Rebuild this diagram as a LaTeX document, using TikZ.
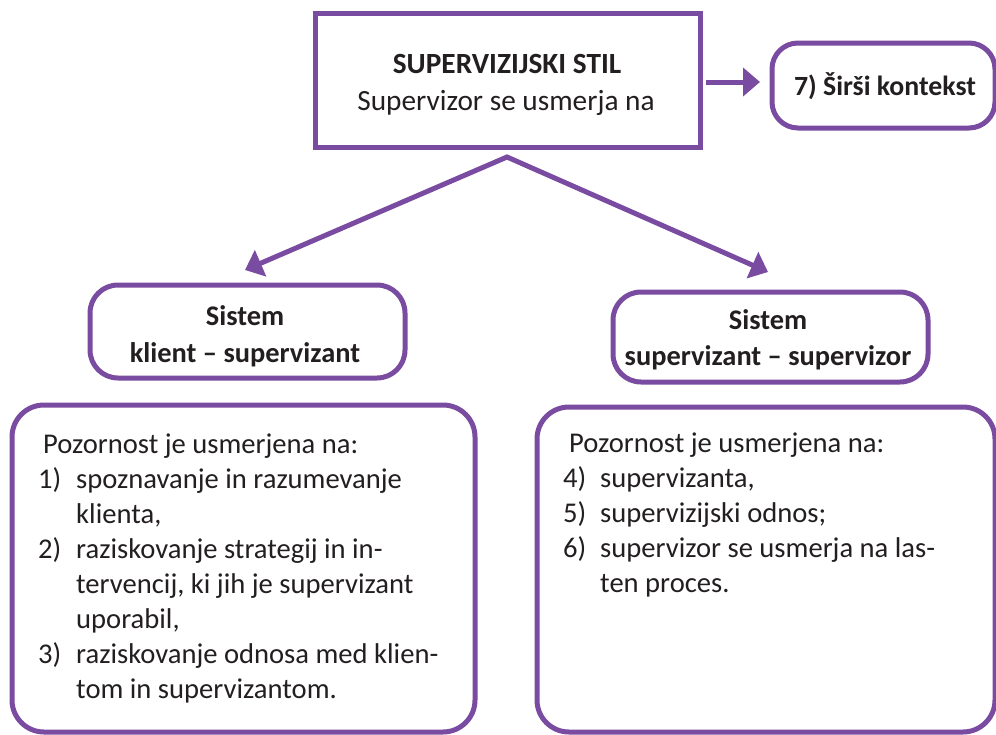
\documentclass[tikz,border=0pt]{standalone}
\usepackage{fontspec}
\setmainfont{Carlito}
\usetikzlibrary{arrows.meta}
\definecolor{vij}{RGB}{122,76,161}
\definecolor{txt}{RGB}{35,31,32}
\newcommand\itm[3]{\hbox{\makebox[#1][l]{#2}#3}}
\begin{document}
\begin{tikzpicture}[x=1pt,y=-1pt,
  frame/.style={draw=vij,line width=5pt,inner sep=0pt,fill=white},
  rbox/.style={frame,rounded corners=28pt},
  lbl/.style={inner sep=0pt,text=txt,anchor=base},
  bodytext/.style={inner sep=0pt,text=txt,anchor=base west,font=\fontsize{28.6}{35}\selectfont},
  conn/.style={draw=vij,line width=5pt,line join=miter},
]
\useasboundingbox (0,0) rectangle (996,734);
% boxes
\node[frame,minimum width=385pt,minimum height=134pt] (top) at (507.5,80) {};
\node[rbox,rounded corners=26pt,minimum width=223pt,minimum height=85pt] (wide) at (883.5,85.5) {};
\node[rbox,minimum width=315pt,minimum height=93pt] (sysL) at (247.5,331.5) {};
\node[rbox,minimum width=315pt,minimum height=90pt] (sysR) at (770.5,337) {};
\node[rbox,rounded corners=32pt,minimum width=463pt,minimum height=327pt] (bigL) at (243.5,568.5) {};
\node[rbox,rounded corners=32pt,minimum width=458pt,minimum height=325pt] (bigR) at (766,569.5) {};
% texts
\node[lbl,font=\bfseries\fontsize{29.3}{32}\selectfont] (t1) at (507,73) {SUPERVIZIJSKI STIL};
\node[lbl,font=\fontsize{29.3}{32}\selectfont] (t2) at (506,110) {Supervizor se usmerja na};
\node[lbl,font=\bfseries\fontsize{27.8}{32}\selectfont] (t7) at (885,95) {7) Širši kontekst};
\node[lbl,font=\bfseries\fontsize{28.4}{32}\selectfont] (sL1) at (245,325) {Sistem};
\node[lbl,font=\bfseries\fontsize{28.4}{32}\selectfont] (sL2) at (245,362) {klient – supervizant};
\node[lbl,font=\bfseries\fontsize{28.4}{32}\selectfont] (sR1) at (768,329) {Sistem};
\node[lbl,font=\bfseries\fontsize{28.4}{32}\selectfont] (sR2) at (768,365) {supervizant – supervizor};
\node[bodytext] (listL) at (38,453) {\vtop{\baselineskip=35pt
  \hbox{\kern5pt Pozornost je usmerjena na:}
  \itm{38pt}{1)}{spoznavanje in razumevanje}
  \itm{38pt}{}{klienta,}
  \itm{38pt}{2)}{raziskovanje strategij in in-}
  \itm{38pt}{}{tervencij, ki jih je supervizant}
  \itm{38pt}{}{uporabil,}
  \itm{38pt}{3)}{raziskovanje odnosa med klien-}
  \itm{38pt}{}{tom in supervizantom.}}};
\node[bodytext] (listR) at (563,452) {\vtop{\baselineskip=35pt
  \hbox{\kern6pt Pozornost je usmerjena na:}
  \itm{37pt}{4)}{supervizanta,}
  \itm{37pt}{5)}{supervizijski odnos;}
  \itm{37pt}{6)}{supervizor se usmerja na las-}
  \itm{37pt}{}{ten proces.}}};
% connectors
\coordinate (apex) at (507,157);
\coordinate (tipL) at (245,270);
\coordinate (tipR) at (768,272);
\coordinate (hs) at (706,82);
\coordinate (he) at (760,82);
\draw[conn,{Triangle[length=17pt,width=28pt]}-{Triangle[length=17pt,width=28pt]}] (tipL) -- (apex) -- (tipR);
\draw[conn,-{Triangle[length=17pt,width=28pt]}] (hs) -- (he);
\end{tikzpicture}
\end{document}
